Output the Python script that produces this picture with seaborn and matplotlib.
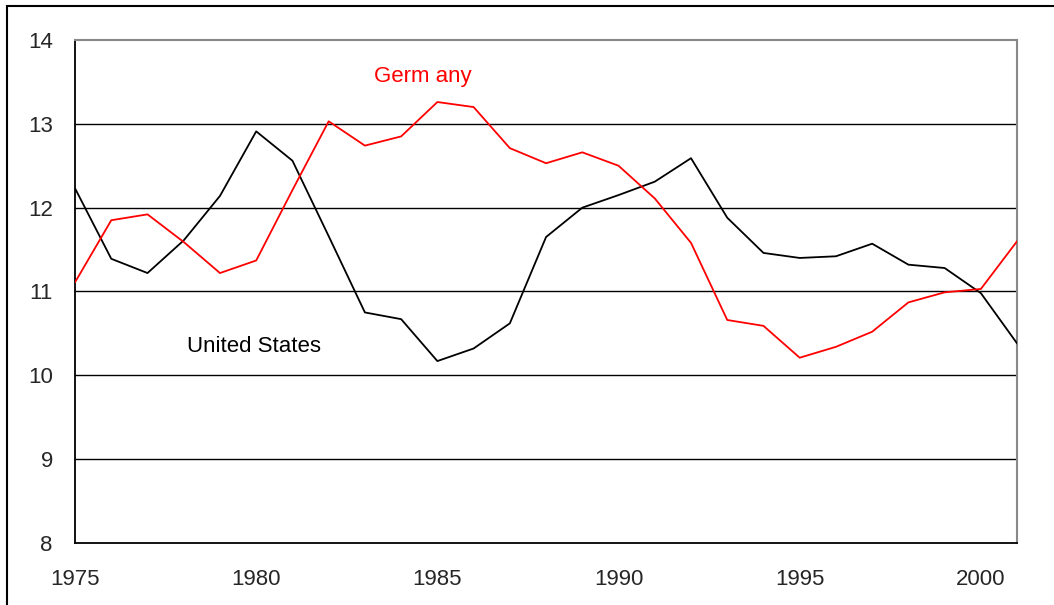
#!/usr/bin/env python3

import pandas as pd
import matplotlib
matplotlib.use("Agg")
import matplotlib.pyplot as plt
import seaborn as sns
from matplotlib.patches import Rectangle

years = list(range(1975, 2002))
us = [12.23, 11.39, 11.22, 11.61, 12.14, 12.91, 12.56, 11.66, 10.75, 10.67,
      10.17, 10.32, 10.62, 11.65, 12.00, 12.15, 12.31, 12.59, 11.88, 11.46,
      11.40, 11.42, 11.57, 11.32, 11.28, 10.98, 10.38]
germany = [11.11, 11.85, 11.92, 11.59, 11.22, 11.37, 12.21, 13.03, 12.74, 12.85,
           13.26, 13.20, 12.71, 12.53, 12.66, 12.50, 12.11, 11.58, 10.66, 10.59,
           10.21, 10.34, 10.52, 10.87, 10.99, 11.03, 11.60]
x_ticks = [1975, 1980, 1985, 1990, 1995, 2000]
y_ticks = [8, 9, 10, 11, 12, 13, 14]

df = pd.DataFrame({
    "year": years * 2,
    "value": us + germany,
    "country": ["United States"] * len(years) + ["Germany"] * len(years),
})

sns.set_style("white")
plt.rcParams['font.family'] = ['Liberation Sans', 'DejaVu Sans']

fig = plt.figure(figsize=(10.54, 6.05), dpi=100)
ax = fig.add_axes([0.0712, 0.1025, 0.8938, 0.8314])

# frame around the whole figure (only left/top visible)
fig.patches.append(Rectangle((7 / 1054, -0.1), 1.2, 1 - 6 / 605 + 0.1,
                             transform=fig.transFigure, fill=False,
                             edgecolor="black", linewidth=1.5))

for v in y_ticks[1:-1]:
    ax.axhline(v, color="black", linewidth=1, zorder=1)

sns.lineplot(data=df, x="year", y="value", hue="country",
             palette={"United States": "black", "Germany": "#ff0000"},
             linewidth=1.3, legend=False, ax=ax, zorder=3)

ax.set_xlim(1975, 2001)
ax.set_ylim(8, 14)
ax.set_xticks(x_ticks)
ax.set_yticks(y_ticks)
ax.set_xlabel("")
ax.set_ylabel("")
ax.tick_params(axis="x", direction="in", length=5, width=1, color="black",
               labelsize=16, pad=19)
ax.tick_params(axis="y", length=0, labelsize=16, pad=16)

for side in ["left", "bottom"]:
    ax.spines[side].set_color("black")
    ax.spines[side].set_linewidth(1.3)
for side in ["top", "right"]:
    ax.spines[side].set_color("#888888")
    ax.spines[side].set_linewidth(1.5)

ax.text(1984.6, 13.57, "Germ any", color="#ff0000", fontsize=16,
        ha="center", va="center")
ax.text(1979.95, 10.34, "United States", color="black", fontsize=16,
        ha="center", va="center")

fig.savefig("out.png", dpi=100)
